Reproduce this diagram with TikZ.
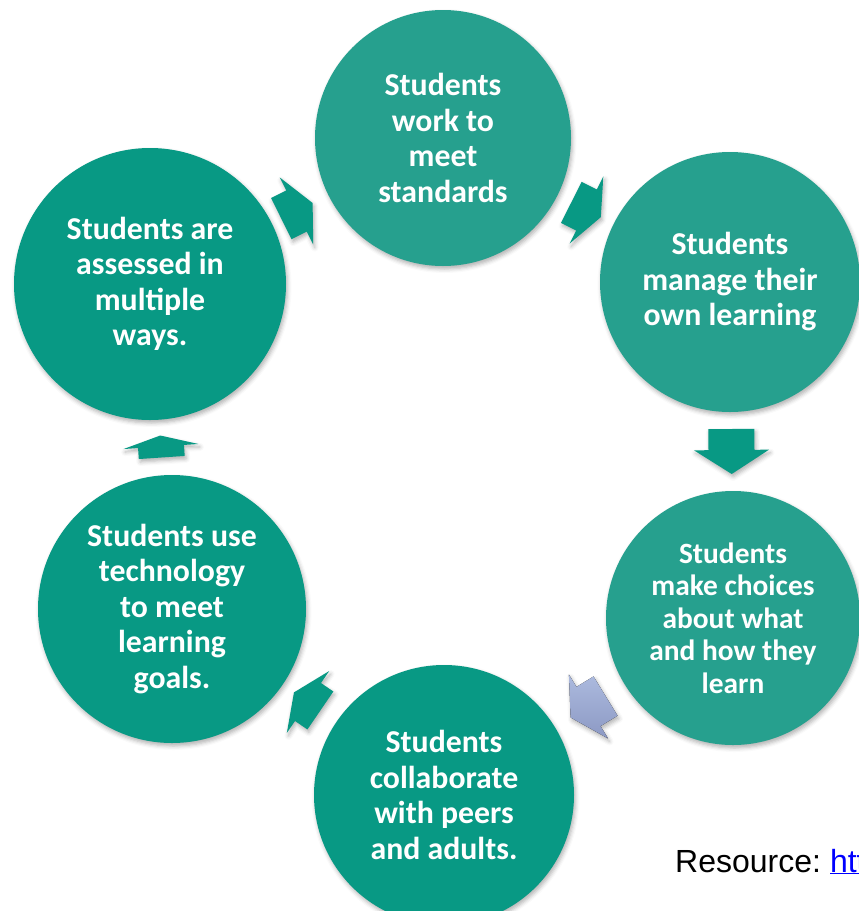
\documentclass[tikz,border=0pt]{standalone}
\usepackage{fontspec}
\setmainfont{Carlito}
\newfontfamily\arialfont{Liberation Sans}
\usepackage{xcolor}
\usepackage{tikz}
\usetikzlibrary{calc, shadows.blur}

\definecolor{tealLight}{RGB}{38,160,142}
\definecolor{tealDark}{RGB}{8,153,132}
\definecolor{slateTop}{RGB}{172,186,222}
\definecolor{slateBot}{RGB}{140,153,196}
\definecolor{linkBlue}{RGB}{0,0,255}

\tikzset{
  softshadow/.style={blur shadow={shadow xshift=1.5pt, shadow yshift=-3pt,
      shadow blur radius=4pt, shadow opacity=30}},
  bubble/.style={circle, fill=#1, inner sep=0pt, align=center, text=white,
    font=\bfseries\fontsize{31.8}{35.5}\selectfont, softshadow},
  arrowfill/.style={fill=tealDark, softshadow},
  slatefill/.style={top color=slateTop, bottom color=slateBot, softshadow}
}

% block arrow half way between two bubbles, pointing from #2 to #3
% #4 = shaft length, #5 = head length
\newcommand{\cyclearrow}[5][arrowfill]{%
  \coordinate (m) at ($(#2)!0.5!(#3)$);
  \coordinate (t) at ($(m)!-#4pt!(#3)$);
  \fill[#1] ($(t)!23pt!90:(#3)$) -- ($(m)!23pt!90:(#3)$) -- ($(m)!37.5pt!90:(#3)$)
    -- ($(m)!#5pt!(#3)$) -- ($(m)!37.5pt!-90:(#3)$) -- ($(m)!23pt!-90:(#3)$)
    -- ($(t)!23pt!-90:(#3)$) -- cycle;}

\begin{document}
\begin{tikzpicture}[x=1pt, y=-1pt]
\useasboundingbox (0,0) rectangle (859,911);

% the six bubbles, clockwise from the top
\node[bubble=tealLight, minimum size=256] (work) at (443,138)
  {Students\\work to\\meet\\standards};
\node[bubble=tealLight, minimum size=260] (manage) at (730,282)
  {Students\\manage their\\own learning};
\node[bubble=tealLight, minimum size=254,
  font=\bfseries\fontsize{29.4}{32.5}\selectfont] (choices) at (733,618)
  {Students\\make choices\\about what\\and how they\\learn};
\node[bubble=tealDark, minimum size=260] (collab) at (444,795)
  {Students\\collaborate\\with peers\\and adults.};
\node[bubble=tealDark, minimum size=268] (tech) at (172,609)
  {Students use\\technology\\to meet\\learning\\goals.};
\node[bubble=tealDark, minimum size=272] (assess) at (150,284)
  {Students are\\assessed in\\multiple\\ways.};

% arrows between neighbours
\cyclearrow{assess}{work}{17}{18}
\cyclearrow{work}{manage}{17}{16}
\cyclearrow{manage}{choices}{21}{24}
\cyclearrow[slatefill]{choices}{collab}{20}{21}
\cyclearrow{collab}{tech}{15}{17}
\cyclearrow{tech}{assess}{11}{11}

% source line, runs off the right edge
\node[anchor=base west, inner sep=0pt, font=\arialfont\fontsize{32}{40}\selectfont] (source)
  at (675,872) {Resource:\hspace{9pt}\textcolor{linkBlue}{\underline{htt}}};
\end{tikzpicture}
\end{document}
